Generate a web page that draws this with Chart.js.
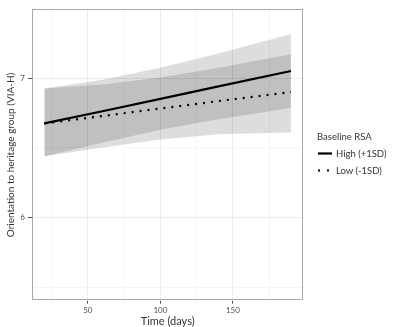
<!DOCTYPE html>
<html>
<head>
<meta charset="utf-8">
<script src="https://cdn.jsdelivr.net/npm/chart.js@4.4.1/dist/chart.umd.min.js"></script>
<style>
  html, body { margin: 0; padding: 0; background: #ffffff; }
  #wrap { position: relative; width: 415px; height: 327px; }
  #c { position: absolute; left: 0; top: 0; }
  #legend { position: absolute; left: 317px; top: 129px; font-family: Lato, "DejaVu Sans", sans-serif; color: #333; font-size: 9.5px; }
  #legend .t { height: 16px; line-height: 16px; }
  #legend .it { height: 17px; line-height: 17px; position: relative; }
  #legend svg { position: absolute; left: 1px; top: 0; }
  #legend .lb { position: absolute; left: 19px; top: 0; white-space: nowrap; }
</style>
</head>
<body>
<div id="wrap">
  <canvas id="c" width="415" height="327"></canvas>
  <div id="legend"></div>
</div>
<script>
// ---- data ----
const days      = [20, 60, 100, 140, 190];
const highMean  = [6.675, 6.762, 6.851, 6.940, 7.050];
const lowMean   = [6.675, 6.728, 6.782, 6.835, 6.900];
const highUpper = [6.925, 6.987, 7.073, 7.175, 7.315];
const highLower = [6.440, 6.537, 6.629, 6.705, 6.785];
const lowUpper  = [6.925, 6.953, 7.004, 7.073, 7.170];
const lowLower  = [6.440, 6.503, 6.560, 6.597, 6.610];
const seriesNames = ['High (+1SD)', 'Low (-1SD)'];
const legendTitle = 'Baseline RSA';
const xTicks = [25, 50, 75, 100, 125, 150, 175];
const xLabels = [50, 100, 150];
const yTicks = [5.5, 6, 6.5, 7];
const yLabels = [6, 7];
const xTitle = 'Time (days)';
const yTitle = 'Orientation to heritage group (VIA-H)';

const pts = arr => days.map((d, i) => ({x: d, y: arr[i]}));
const FONT = 'Lato, "DejaVu Sans", sans-serif';
const bandFill = 'rgba(0,0,0,0.135)';

const borderPlugin = {
  id: 'panelBorder',
  afterDatasetsDraw(chart) {
    const a = chart.chartArea, ctx = chart.ctx;
    ctx.save();
    ctx.strokeStyle = '#a8a8a8';
    ctx.lineWidth = 1;
    ctx.strokeRect(Math.round(a.left) + 0.5, Math.round(a.top) + 0.5,
                   Math.round(a.right - a.left) - 1, Math.round(a.bottom - a.top) - 1);
    ctx.restore();
  }
};

new Chart(document.getElementById('c'), {
  type: 'line',
  data: {
    datasets: [
      { label: seriesNames[0], data: pts(highMean), borderColor: '#000', borderWidth: 2.2,
        pointRadius: 0, fill: false, tension: 0 },
      { label: seriesNames[1], data: pts(lowMean), borderColor: '#000', borderWidth: 2.2,
        borderDash: [2, 6], borderCapStyle: 'butt', pointRadius: 0, fill: false, tension: 0 },
      { label: 'hiU', data: pts(highUpper), borderColor: 'transparent', borderWidth: 0,
        backgroundColor: bandFill, pointRadius: 0, fill: 3 },
      { label: 'hiL', data: pts(highLower), borderColor: 'transparent', borderWidth: 0,
        pointRadius: 0, fill: false },
      { label: 'loU', data: pts(lowUpper), borderColor: 'transparent', borderWidth: 0,
        backgroundColor: bandFill, pointRadius: 0, fill: 5 },
      { label: 'loL', data: pts(lowLower), borderColor: 'transparent', borderWidth: 0,
        pointRadius: 0, fill: false }
    ]
  },
  options: {
    responsive: false,
    animation: false,
    devicePixelRatio: 1,
    layout: { padding: { left: 0, right: 111.7, top: 9.3, bottom: 0 } },
    plugins: { legend: { display: false }, tooltip: { enabled: false } },
    scales: {
      x: {
        type: 'linear', min: 11.5, max: 198.5,
        afterBuildTicks: s => { s.ticks = xTicks.map(v => ({value: v})); },
        afterFit: s => { s.height = 26.3; },
        border: { display: false },
        grid: {
          color: c => xLabels.includes(c.tick && c.tick.value) ? '#ebebeb' : '#f5f5f5',
          tickColor: c => xLabels.includes(c.tick && c.tick.value) ? '#4d4d4d' : 'rgba(0,0,0,0)',
          tickLength: 3, lineWidth: 1
        },
        ticks: {
          autoSkip: false, maxRotation: 0, padding: 2, color: '#4d4d4d',
          font: { family: FONT, size: 8 },
          callback: v => xLabels.includes(v) ? String(v) : ''
        },
        title: { display: true, text: xTitle, color: '#333', padding: { top: 0, bottom: 0 },
                 font: { family: FONT, size: 11, lineHeight: 1.0 } }
      },
      y: {
        type: 'linear', min: 5.406, max: 7.492,
        afterBuildTicks: s => { s.ticks = yTicks.map(v => ({value: v})); },
        afterFit: s => { s.width = 32; },
        border: { display: false },
        grid: {
          color: c => yLabels.includes(c.tick && c.tick.value) ? '#ebebeb' : '#f5f5f5',
          tickColor: c => yLabels.includes(c.tick && c.tick.value) ? '#4d4d4d' : 'rgba(0,0,0,0)',
          tickLength: 4, lineWidth: 1
        },
        ticks: {
          autoSkip: false, padding: 3, color: '#4d4d4d',
          font: { family: FONT, size: 8 },
          callback: v => yLabels.includes(v) ? String(v) : ''
        },
        title: { display: true, text: yTitle, color: '#333', padding: { top: 5, bottom: 0 },
                 font: { family: FONT, size: 10, lineHeight: 1.2 } }
      }
    }
  },
  plugins: [borderPlugin]
});

// legend (HTML)
const lg = document.getElementById('legend');
let html = '<div class="t">' + legendTitle + '</div>';
html += '<div class="it"><svg width="16" height="17"><line x1="0" y1="8.5" x2="14" y2="8.5" stroke="#000" stroke-width="2.2"/></svg><span class="lb">' + seriesNames[0] + '</span></div>';
html += '<div class="it"><svg width="16" height="17"><line x1="0" y1="8.5" x2="14" y2="8.5" stroke="#000" stroke-width="2.2" stroke-dasharray="2 7"/></svg><span class="lb">' + seriesNames[1] + '</span></div>';
lg.innerHTML = html;
</script>
</body>
</html>
